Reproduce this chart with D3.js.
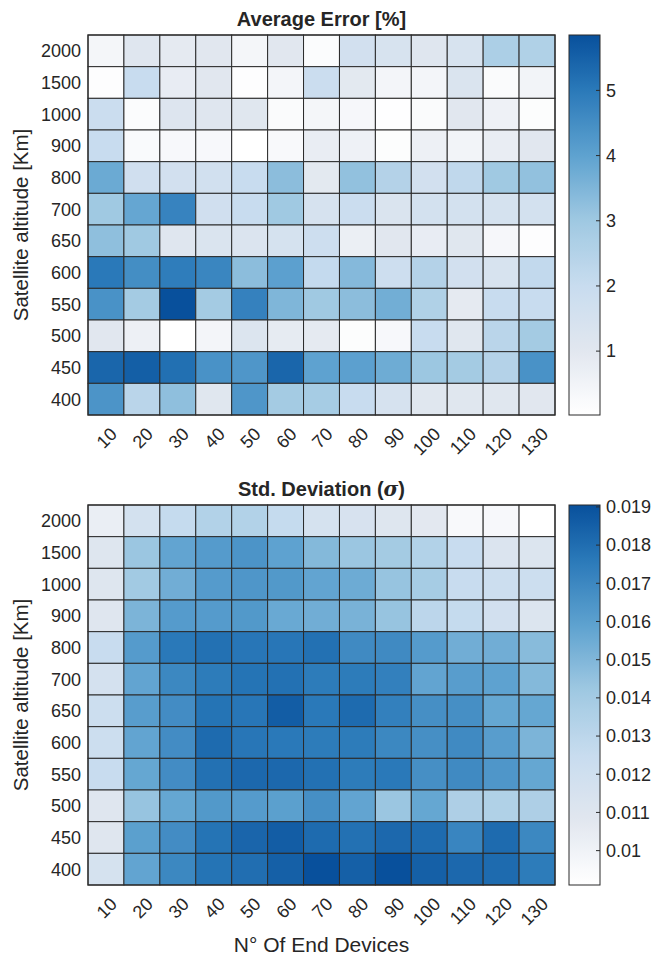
<!DOCTYPE html>
<html><head><meta charset="utf-8">
<script src="https://cdn.jsdelivr.net/npm/d3@7"></script>
<style>body{margin:0;background:#fff}svg{display:block;font-family:"Liberation Sans",Arial,Helvetica,sans-serif}</style>
</head><body><svg id="c" width="662" height="958"></svg>
<script>
const devices = ["10","20","30","40","50","60","70","80","90","100","110","120","130"];
const altitudes = ["2000","1500","1000","900","800","700","650","600","550","500","450","400"];

const avgError = [
 [0.4, 1.1, 0.9, 1.0, 0.4, 1.0, 0.15, 1.6, 1.4, 1.1, 1.4, 2.7, 2.6],
 [0.1, 2.0, 0.8, 1.0, 0.1, 0.45, 1.9, 0.95, 0.45, 0.45, 1.3, 0.2, 0.5],
 [1.9, 0.15, 1.15, 1.1, 1.05, 0.2, 0.4, 0.35, 0.05, 0.2, 1.0, 0.6, 0.12],
 [2.0, 0.25, 0.3, 0.3, 0.02, 0.28, 0.75, 0.6, 0.12, 0.65, 0.5, 0.75, 1.0],
 [3.8, 1.7, 1.6, 1.65, 2.0, 3.3, 0.95, 3.2, 2.5, 1.6, 2.2, 3.0, 3.2],
 [3.0, 3.9, 4.75, 1.7, 2.0, 3.0, 1.45, 1.9, 1.3, 1.55, 1.55, 1.5, 1.55],
 [3.25, 3.0, 1.1, 1.3, 1.25, 1.5, 1.8, 0.7, 1.0, 0.8, 1.05, 0.35, 0.1],
 [5.0, 4.5, 4.9, 4.7, 3.3, 4.05, 2.1, 3.4, 1.8, 2.5, 1.6, 1.4, 2.15],
 [4.4, 2.9, 5.85, 2.9, 4.8, 3.5, 3.0, 3.3, 3.7, 2.6, 0.9, 2.0, 2.0],
 [1.0, 0.65, 0.03, 0.45, 1.2, 0.85, 0.9, 0.12, 0.3, 2.0, 1.05, 2.35, 2.9],
 [5.4, 5.55, 5.2, 4.4, 4.3, 5.4, 4.0, 4.05, 3.75, 3.05, 2.9, 2.5, 4.4],
 [4.35, 2.35, 3.25, 1.05, 4.3, 2.9, 2.85, 2.0, 1.45, 1.05, 1.05, 1.05, 1.0]
];

const stdDev = [
 [0.0103, 0.01175, 0.0126, 0.0134, 0.0134, 0.0126, 0.0116, 0.0115, 0.0110, 0.0107, 0.0095, 0.0096, 0.0091],
 [0.0110, 0.0143, 0.0158, 0.0162, 0.0165, 0.0159, 0.0149, 0.0143, 0.0140, 0.0134, 0.0125, 0.0112, 0.0111],
 [0.0110, 0.0141, 0.0154, 0.0162, 0.0164, 0.0163, 0.0158, 0.0155, 0.0144, 0.0139, 0.0125, 0.0122, 0.0122],
 [0.0109, 0.0151, 0.0162, 0.0162, 0.0163, 0.0156, 0.0154, 0.0152, 0.0144, 0.0130, 0.0126, 0.0118, 0.0111],
 [0.0125, 0.0162, 0.0176, 0.0179, 0.0177, 0.0177, 0.0179, 0.0169, 0.0169, 0.0162, 0.0154, 0.0154, 0.0148],
 [0.0117, 0.0158, 0.0170, 0.0175, 0.0178, 0.0179, 0.0175, 0.0175, 0.0173, 0.0158, 0.0161, 0.0159, 0.0149],
 [0.0122, 0.0161, 0.0168, 0.0178, 0.0177, 0.0186, 0.0176, 0.0181, 0.0173, 0.0167, 0.0167, 0.0157, 0.0157],
 [0.0122, 0.0158, 0.0168, 0.0181, 0.0177, 0.0176, 0.0175, 0.0175, 0.0170, 0.0167, 0.0169, 0.0161, 0.0151],
 [0.0125, 0.0157, 0.0168, 0.0179, 0.0182, 0.0182, 0.0179, 0.0175, 0.0176, 0.0167, 0.0169, 0.0164, 0.0157],
 [0.0109, 0.0144, 0.0157, 0.0163, 0.0162, 0.0160, 0.0167, 0.0158, 0.0143, 0.0157, 0.0136, 0.0135, 0.0136],
 [0.0109, 0.0160, 0.0168, 0.0178, 0.0183, 0.0186, 0.0181, 0.0179, 0.0182, 0.0181, 0.0171, 0.0181, 0.0170],
 [0.0116, 0.0158, 0.0170, 0.0178, 0.0180, 0.0185, 0.01905, 0.0185, 0.01905, 0.0185, 0.0182, 0.0181, 0.0175]
];

const avgTicks = [1, 2, 3, 4, 5];
const stdTicks = [0.01, 0.011, 0.012, 0.013, 0.014, 0.015, 0.016, 0.017, 0.018, 0.019];

const cmapStops = [[0,"#ffffff"],[0.08,"#f2f4f8"],[0.17,"#e1e7ef"],[0.34,"#c8dcef"],[0.51,"#a0c9e2"],[0.68,"#5fa3d0"],[0.855,"#2a79b9"],[1,"#08509c"]];

const svg = d3.select("#c");
const X0 = 88, X1 = 555, CB0 = 569, CB1 = 600;
const txt = "#262626";

function drawPanel(data, ticks, y0, y1, titleFn, tickFmt) {
  const flat = data.flat();
  const ext = d3.extent(flat);
  const norm = d3.scaleLinear().domain(ext).range([0,1]).clamp(true);
  const cm = d3.scaleLinear().domain(cmapStops.map(d=>d[0])).range(cmapStops.map(d=>d[1])).interpolate(d3.interpolateRgb);
  const color = v => cm(norm(v));
  const x = d3.scaleBand().domain(devices).range([X0, X1]).padding(0);
  const y = d3.scaleBand().domain(altitudes).range([y0, y1]).padding(0);
  const g = svg.append("g");
  const cells = [];
  data.forEach((row, i) => row.forEach((v, j) => cells.push({a: altitudes[i], d: devices[j], v})));
  g.selectAll("rect.cell").data(cells).join("rect")
    .attr("x", d => x(d.d)).attr("y", d => y(d.a))
    .attr("width", x.bandwidth()).attr("height", y.bandwidth())
    .attr("fill", d => color(d.v)).attr("stroke", "#2b2b2b").attr("stroke-width", 1);
  g.append("rect").attr("x", X0).attr("y", y0).attr("width", X1-X0).attr("height", y1-y0)
    .attr("fill","none").attr("stroke","#2b2b2b").attr("stroke-width",1.2);
  g.selectAll("text.yl").data(altitudes).join("text")
    .attr("x", 81).attr("y", d => y(d) + y.bandwidth()/2).attr("dy","0.36em")
    .attr("text-anchor","end").attr("font-size",18).attr("fill",txt).text(d=>d);
  g.selectAll("text.xl").data(devices).join("text")
    .attr("transform", d => `translate(${x(d)+x.bandwidth()/2+8},${y1+16}) rotate(-45)`)
    .attr("text-anchor","end").attr("dominant-baseline","central")
    .attr("font-size",18).attr("fill",txt).text(d=>d);
  titleFn(g.append("text").attr("x",(X0+X1)/2).attr("y",y0-9).attr("text-anchor","middle")
    .attr("font-size",20).attr("font-weight","bold").attr("fill",txt));
  g.append("text").attr("transform",`translate(28,${(y0+y1)/2}) rotate(-90)`)
    .attr("text-anchor","middle").attr("font-size",20.5).attr("fill",txt).text("Satellite altitude [Km]");
  const gid = "grad" + y0;
  const grad = svg.append("defs").append("linearGradient").attr("id",gid)
    .attr("x1",0).attr("y1",1).attr("x2",0).attr("y2",0);
  d3.range(0,1.0001,0.02).forEach(t => grad.append("stop").attr("offset",t).attr("stop-color",cm(t)));
  const cy = d3.scaleLinear().domain(ext).range([y1, y0]);
  g.append("rect").attr("x",CB0).attr("y",y0).attr("width",CB1-CB0).attr("height",y1-y0)
    .attr("fill",`url(#${gid})`).attr("stroke","#2b2b2b").attr("stroke-width",1);
  const ax = d3.axisRight(cy).tickValues(ticks).tickSize(0).tickFormat(tickFmt);
  const ag = g.append("g").attr("transform",`translate(${CB1},0)`).call(ax);
  ag.select(".domain").remove();
  ag.selectAll("text").attr("x",6).attr("font-size",18).attr("fill",txt).attr("font-family","'Liberation Sans',Arial,sans-serif");
  g.selectAll("line.cbt").data(ticks).join("line")
    .attr("x1",CB1-4).attr("x2",CB1).attr("y1",d=>cy(d)).attr("y2",d=>cy(d))
    .attr("stroke","#2b2b2b").attr("stroke-width",1);
}

drawPanel(avgError, avgTicks, 35, 415, t => t.text("Average Error [%]"), d3.format("d"));
drawPanel(stdDev, stdTicks, 505, 885, t => {
  t.append("tspan").text("Std. Deviation (");
  t.append("tspan").attr("font-style","italic").attr("font-family","'DejaVu Serif',serif").text("σ");
  t.append("tspan").text(")");
}, d => String(+d.toFixed(3)));

svg.append("text").attr("x",(X0+X1)/2).attr("y",952).attr("text-anchor","middle")
  .attr("font-size",21).attr("fill",txt).text("N° Of End Devices");
</script></body></html>
